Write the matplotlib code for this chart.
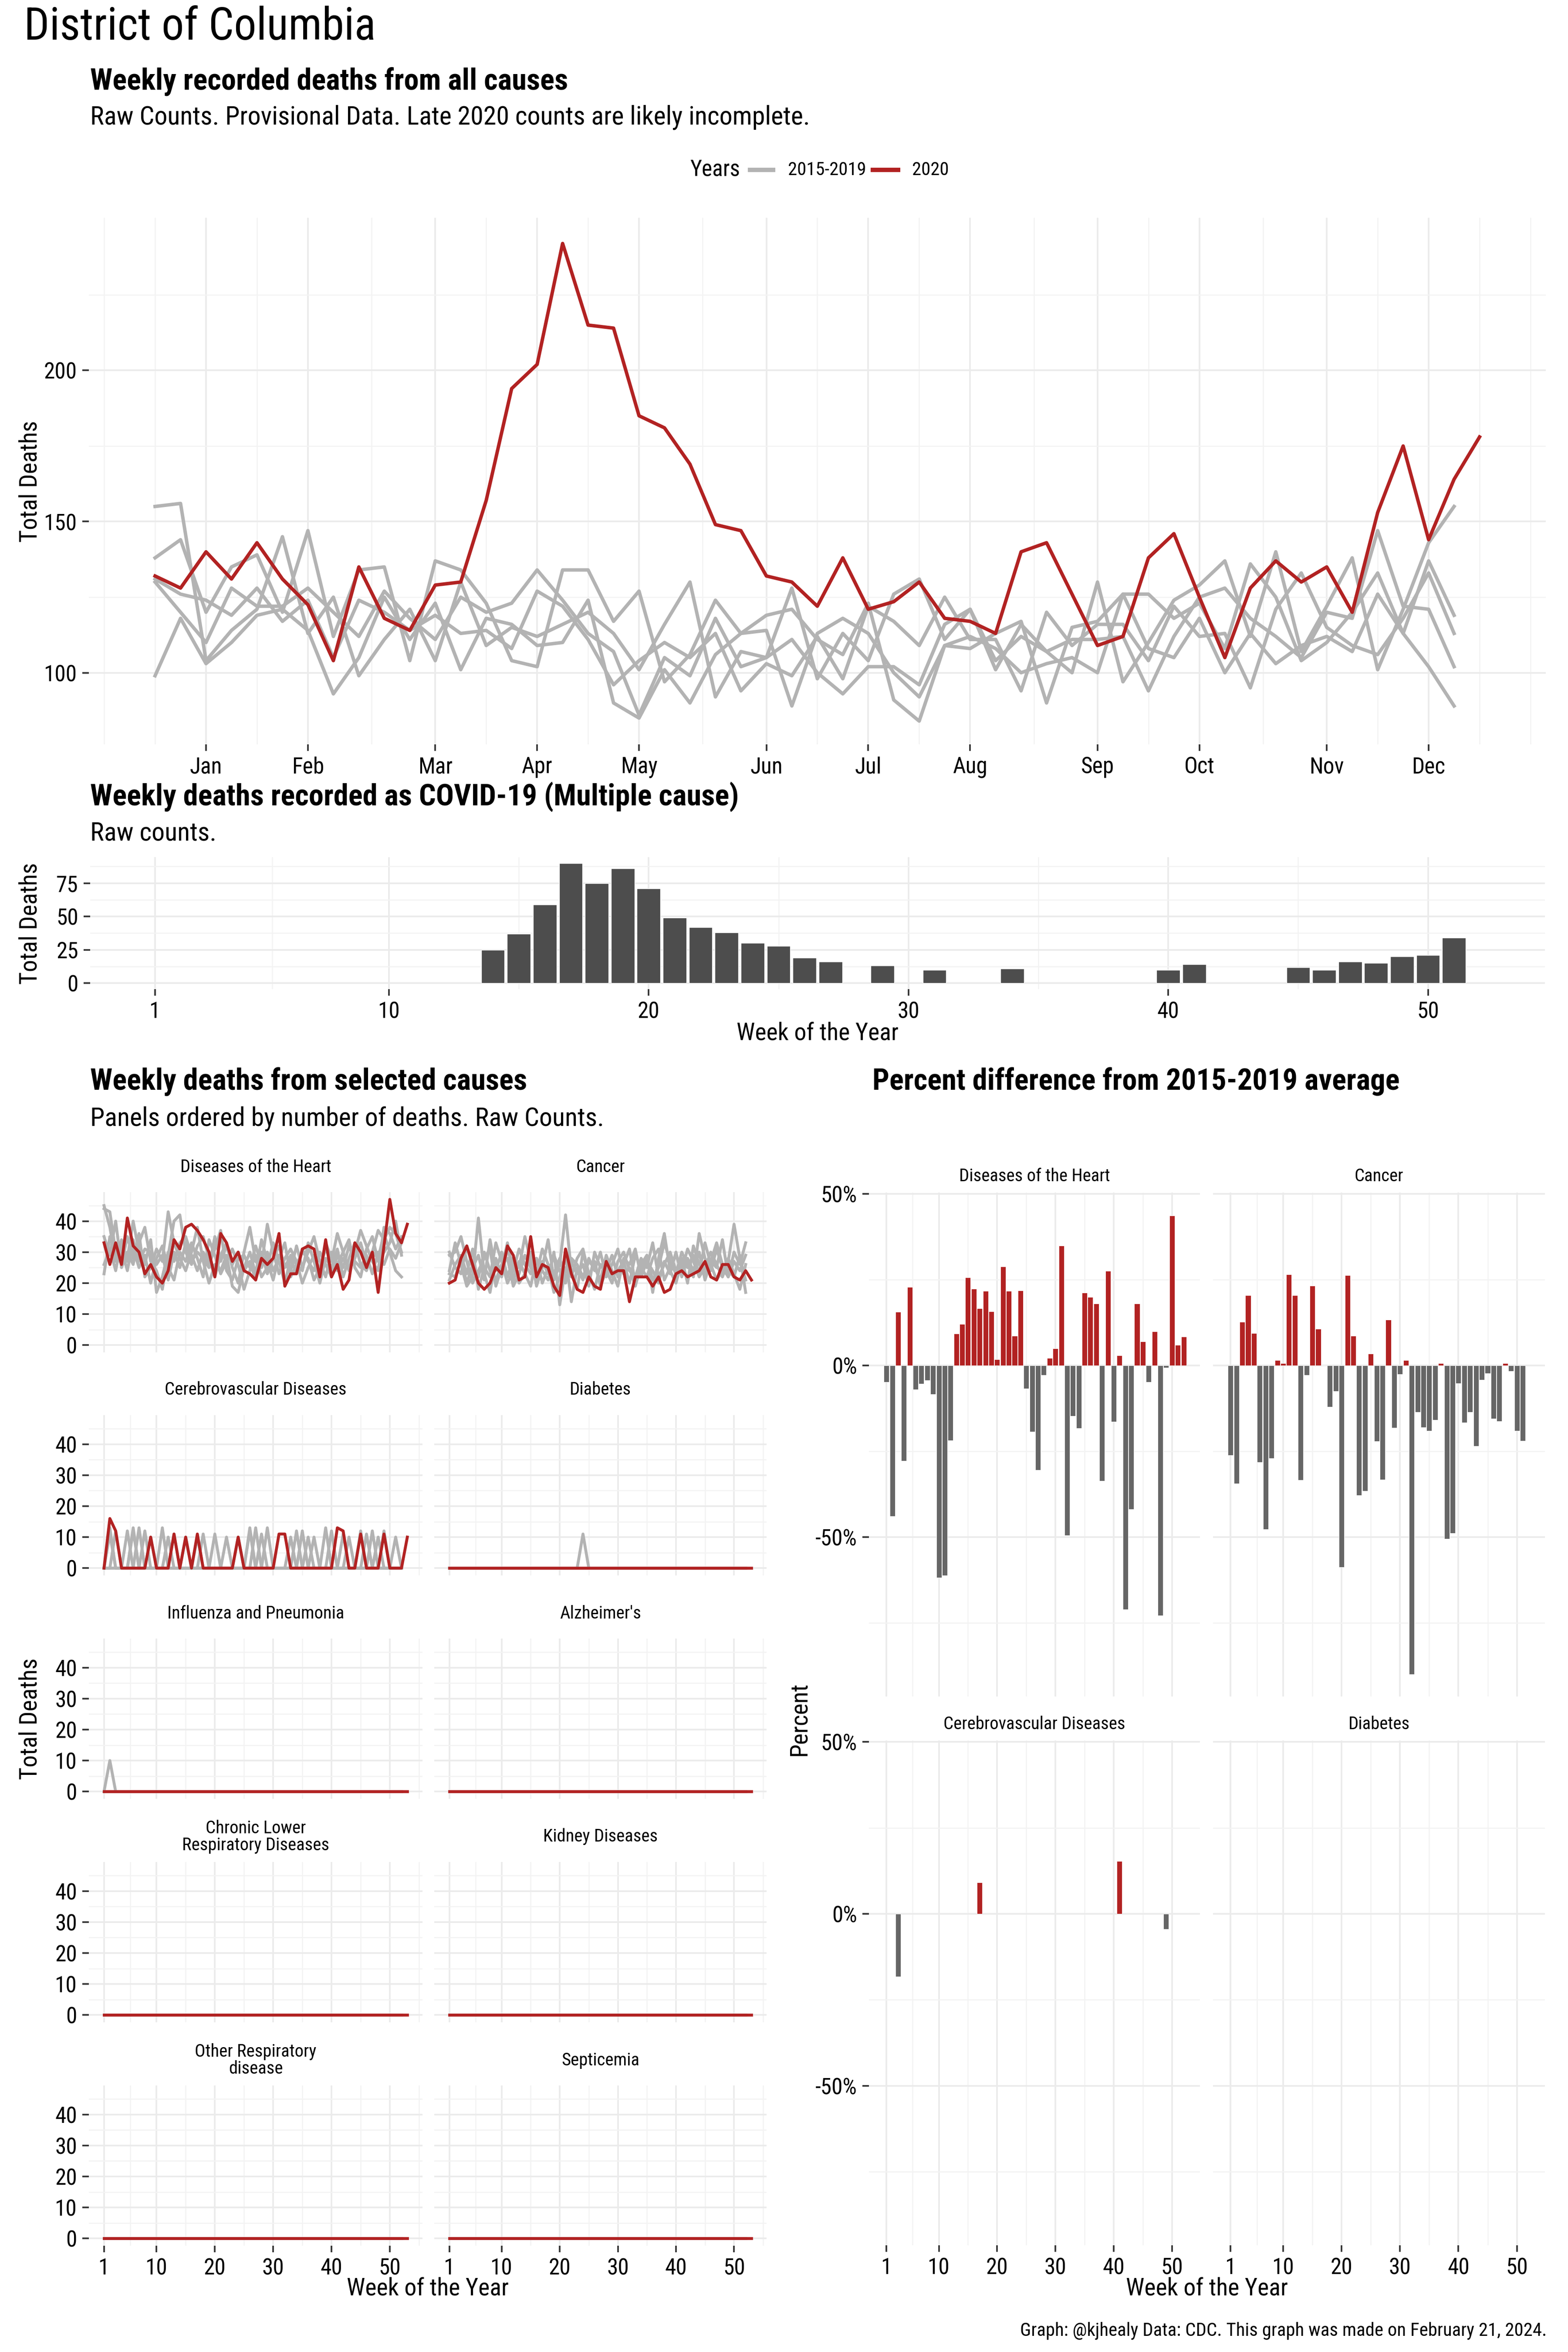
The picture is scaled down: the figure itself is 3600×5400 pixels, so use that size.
import numpy as np
import matplotlib
matplotlib.use('Agg')
import matplotlib.pyplot as plt
from matplotlib.lines import Line2D
from matplotlib import font_manager as fm

# ------------------------------------------------------------------ data
months = ['Jan', 'Feb', 'Mar', 'Apr', 'May', 'Jun', 'Jul', 'Aug', 'Sep', 'Oct', 'Nov', 'Dec']
month_week_pos = [3, 7, 12, 16, 20, 25, 29, 33, 38, 42, 47, 51]

allcause_2020 = [132, 128, 140, 131, 143, 131, 122.5, 104, 135, 118, 114, 129, 130, 157, 194, 202,
                 242, 215, 214, 185, 181, 169, 149, 147, 132, 130, 122, 138, 121, 123.5, 130, 118,
                 117, 113, 140, 143, 126, 109, 112, 138, 146, 125, 105, 128, 137, 130, 135, 120,
                 153, 175, 144, 164, 178]
allcause_prev_a = [155, 156, 104, 114, 121, 145, 113, 125, 99, 111, 121, 104, 130, 109, 115, 112, 116,
                   120, 113, 101, 116, 130, 92, 107, 105, 128, 98, 113, 104, 126, 131, 111, 121, 101,
                   116, 107, 100, 130, 97, 110, 124, 129, 137, 112, 140, 107, 122, 138, 101, 121, 143, 155]
allcause_prev_b = [138, 144, 120, 135, 139, 120, 147, 112, 134, 135, 104, 137, 134, 123, 104, 102, 134,
                   134, 117, 127, 97, 106, 124, 113, 119, 121, 111, 106, 123, 91, 84, 109, 108, 113,
                   117, 90, 115, 117, 126, 126, 118, 123, 108, 136, 125, 104, 110, 120, 133, 113, 137, 119]
allcause_prev_c = [131, 126, 124, 119, 128, 117, 124, 105, 124, 120, 114, 119, 113, 114, 108, 127, 122,
                   111, 96, 104, 110, 105, 113, 94, 103, 99, 112, 98, 122, 117, 109, 125, 111, 111,
                   94, 120, 109, 116, 116, 104, 122, 112, 113, 95, 121, 133, 115, 109, 106, 118, 133, 113]
allcause_prev_d = [130, 120, 110, 128, 122, 122, 128, 120, 112, 127, 118, 111, 125, 120, 123, 134, 124,
                   113, 107, 86, 105, 99, 118, 102, 105, 111, 100, 93, 102, 102, 96, 116, 121, 104,
                   112, 107, 111, 111, 112, 94, 112, 125, 128, 118, 112, 105, 120, 118, 147, 122, 121, 102]
allcause_prev_e = [99, 118, 103, 110, 119, 121, 114, 93, 105, 125, 111, 123, 101, 118, 116, 109, 110,
                   124, 90, 85, 101, 90, 106, 113, 114, 89, 113, 118, 113, 100, 92, 109, 112, 108,
                   100, 103, 105, 100, 126, 108, 105, 118, 100, 113, 103, 109, 112, 107, 126, 113, 102, 89]

covid_weeks = [14, 15, 16, 17, 18, 19, 20, 21, 22, 23, 24, 25, 26, 27, 29, 31, 34, 40, 41, 45, 46, 47,
               48, 49, 50, 51]
covid_deaths = [25, 37, 59, 90, 75, 86, 71, 49, 42, 38, 30, 28, 19, 16, 13, 10, 11, 10, 14, 12, 10, 16,
                15, 20, 21, 34]

heart_2020 = [33, 26, 33, 26, 41, 32, 30, 23, 26, 22, 20, 24, 34, 31, 38, 39, 37, 34, 30, 22, 36, 33,
              27, 30, 24, 23, 21, 28, 26, 28, 36, 19, 23, 23, 31, 32, 31, 22, 34, 22, 26, 18, 21, 33,
              30, 25, 30, 17, 32, 47, 36, 33, 39]
heart_prev_a = [44, 43, 30, 26, 35, 28, 33, 38, 27, 24, 18, 29, 40, 42, 30, 26, 32, 35, 28, 22, 29, 33,
                25, 20, 30, 38, 27, 25, 30, 24, 28, 33, 22, 26, 30, 28, 21, 25, 31, 27, 36, 30, 24, 28,
                33, 26, 30, 37, 34, 38, 36, 30]
heart_prev_b = [45, 38, 27, 32, 28, 40, 30, 26, 34, 17, 22, 30, 27, 33, 35, 29, 24, 30, 26, 31, 37, 24,
                21, 28, 29, 25, 32, 26, 39, 30, 23, 28, 31, 27, 20, 25, 29, 24, 33, 28, 26, 30, 34, 25,
                22, 31, 35, 27, 30, 33, 40, 29]
heart_prev_c = [35, 29, 40, 25, 30, 26, 36, 22, 25, 31, 27, 43, 33, 28, 24, 30, 38, 27, 20, 26, 24, 29,
                19, 17, 25, 30, 23, 34, 27, 21, 29, 26, 24, 32, 25, 30, 35, 27, 22, 30, 24, 28, 25, 30,
                37, 32, 27, 24, 38, 36, 31, 35]
heart_prev_d = [26, 31, 24, 34, 27, 31, 25, 29, 20, 28, 32, 25, 21, 30, 27, 33, 28, 22, 34, 29, 23, 27,
                31, 26, 18, 24, 29, 22, 25, 33, 27, 20, 28, 23, 31, 27, 24, 30, 26, 22, 29, 25, 32, 27,
                25, 29, 23, 30, 26, 31, 28, 33]
heart_prev_e = [23, 35, 29, 31, 24, 34, 27, 31, 30, 26, 29, 21, 30, 25, 33, 27, 30, 28, 25, 35, 27, 32,
                26, 30, 24, 27, 21, 30, 23, 28, 32, 25, 29, 26, 24, 33, 27, 20, 28, 25, 31, 22, 28, 33,
                26, 24, 30, 28, 36, 30, 24, 22]

cancer_2020 = [20, 21, 28, 32, 26, 20, 18, 20, 25, 23, 32, 29, 21, 22, 35, 22, 26, 25, 19, 16, 31, 23,
               18, 17, 22, 19, 18, 27, 23, 24, 24, 14, 22, 22, 22, 19, 22, 17, 18, 23, 24, 22, 23, 24,
               27, 22, 21, 26, 26, 22, 21, 24, 21]
cancer_prev_a = [24, 33, 26, 19, 22, 41, 23, 17, 28, 22, 31, 26, 20, 23, 30, 19, 25, 34, 21, 26, 42, 24,
                 18, 30, 22, 27, 19, 24, 29, 22, 26, 31, 20, 24, 28, 21, 25, 33, 27, 23, 30, 26, 22, 36,
                 28, 24, 31, 25, 22, 30, 26, 33]
cancer_prev_b = [29, 30, 35, 27, 20, 24, 28, 31, 19, 25, 33, 21, 27, 23, 19, 28, 24, 21, 30, 13, 25, 22,
                 28, 31, 23, 18, 26, 24, 20, 27, 30, 24, 22, 28, 25, 33, 22, 26, 30, 24, 28, 20, 32, 26,
                 23, 27, 25, 34, 22, 27, 24, 29]
cancer_prev_c = [21, 26, 29, 23, 31, 18, 25, 22, 33, 27, 20, 24, 31, 26, 23, 28, 20, 25, 17, 22, 29, 14,
                 25, 21, 28, 24, 30, 22, 26, 31, 23, 25, 19, 26, 29, 17, 28, 36, 24, 20, 27, 25, 29, 23,
                 33, 26, 21, 24, 28, 23, 18, 26]
cancer_prev_d = [30, 25, 23, 32, 25, 29, 21, 34, 24, 30, 22, 28, 25, 35, 27, 23, 31, 26, 23, 28, 21, 27,
                 23, 26, 19, 30, 25, 28, 22, 24, 27, 20, 29, 25, 22, 28, 31, 21, 25, 29, 24, 31, 27, 22,
                 25, 30, 26, 22, 27, 39, 28, 21]
cancer_prev_e = [23, 22, 28, 20, 26, 22, 30, 24, 21, 26, 28, 19, 23, 29, 25, 21, 27, 23, 29, 24, 20, 28,
                 26, 22, 27, 25, 21, 29, 24, 19, 28, 26, 31, 22, 27, 24, 20, 27, 23, 30, 22, 28, 24, 30,
                 21, 27, 33, 26, 24, 22, 29, 17]

cerebro_2020 = [0, 16, 12, 0, 0, 0, 0, 0, 10, 0, 0, 0, 11, 0, 10, 0, 11, 0, 0, 0, 0, 0, 0, 10, 0, 0,
                0, 0, 0, 0, 11, 11, 0, 0, 0, 0, 0, 0, 0, 0, 13, 12, 0, 0, 11, 0, 0, 0, 11, 0, 0, 0, 10]
cerebro_prev_a = [0, 13, 0, 0, 0, 13, 0, 0, 0, 0, 13, 0, 0, 0, 0, 0, 10, 0, 0, 0, 0, 0, 0, 0, 0, 13,
                  0, 0, 0, 0, 0, 0, 0, 12, 0, 0, 0, 0, 13, 0, 0, 0, 0, 0, 0, 11, 0, 0, 0, 0, 10, 0]
cerebro_prev_b = [0, 0, 12, 0, 0, 0, 13, 0, 0, 0, 0, 0, 11, 0, 0, 0, 0, 0, 0, 11, 0, 0, 0, 0, 0, 0,
                  13, 0, 0, 0, 0, 0, 0, 0, 12, 0, 0, 0, 0, 12, 0, 0, 0, 0, 0, 0, 12, 0, 0, 0, 0, 0]
cerebro_prev_c = [0, 0, 0, 0, 12, 0, 0, 12, 0, 0, 0, 0, 0, 0, 10, 0, 0, 0, 0, 0, 0, 10, 0, 0, 0, 0,
                  0, 11, 0, 0, 0, 0, 0, 0, 0, 10, 0, 0, 0, 0, 0, 11, 0, 0, 0, 0, 0, 0, 12, 0, 0, 0]
cerebro_prev_d = [0, 0, 0, 0, 0, 12, 0, 0, 10, 0, 0, 0, 0, 0, 0, 0, 0, 11, 0, 0, 0, 0, 0, 10, 0, 0,
                  0, 0, 13, 0, 0, 0, 0, 0, 0, 0, 10, 0, 0, 0, 0, 0, 0, 0, 12, 0, 0, 0, 0, 0, 0, 0]
cerebro_prev_e = [0, 11, 0, 0, 0, 0, 0, 0, 0, 0, 0, 10, 0, 0, 0, 0, 0, 0, 0, 0, 0, 0, 0, 0, 0, 12,
                  0, 0, 0, 0, 0, 0, 10, 0, 0, 0, 0, 0, 0, 0, 0, 0, 10, 0, 0, 0, 0, 10, 0, 0, 0, 0]

diabetes_prev_spike = [0, 0, 0, 0, 0, 0, 0, 0, 0, 0, 0, 0, 0, 0, 0, 0, 0, 0, 0, 0, 0, 0, 0, 11, 0, 0,
                       0, 0, 0, 0, 0, 0, 0, 0, 0, 0, 0, 0, 0, 0, 0, 0, 0, 0, 0, 0, 0, 0, 0, 0, 0, 0]
influenza_prev_spike = [0, 10, 0, 0, 0, 0, 0, 0, 0, 0, 0, 0, 0, 0, 0, 0, 0, 0, 0, 0, 0, 0, 0, 0, 0, 0,
                        0, 0, 0, 0, 0, 0, 0, 0, 0, 0, 0, 0, 0, 0, 0, 0, 0, 0, 0, 0, 0, 0, 0, 0, 0, 0]
zeros_2020 = [0, 0, 0, 0, 0, 0, 0, 0, 0, 0, 0, 0, 0, 0, 0, 0, 0, 0, 0, 0, 0, 0, 0, 0, 0, 0, 0,
              0, 0, 0, 0, 0, 0, 0, 0, 0, 0, 0, 0, 0, 0, 0, 0, 0, 0, 0, 0, 0, 0, 0, 0, 0, 0]
zeros_prev = [0, 0, 0, 0, 0, 0, 0, 0, 0, 0, 0, 0, 0, 0, 0, 0, 0, 0, 0, 0, 0, 0, 0, 0, 0, 0,
              0, 0, 0, 0, 0, 0, 0, 0, 0, 0, 0, 0, 0, 0, 0, 0, 0, 0, 0, 0, 0, 0, 0, 0, 0, 0]

cause_names = ['Diseases of the Heart', 'Cancer', 'Cerebrovascular Diseases', 'Diabetes',
               'Influenza and Pneumonia', "Alzheimer's", 'Chronic Lower\nRespiratory Diseases',
               'Kidney Diseases', 'Other Respiratory\ndisease', 'Septicemia']

heart_pct = [-4.8, -43.9, 15.6, -27.8, 22.9, -7, -5.3, -4.3, -8.4, -61.8, -61.1, -21.8, 9.3, 12.1,
             25.6, 22.4, 16.7, 21.7, 15.8, 1.8, 28.8, 21.7, 8.7, 21.9, -6.7, -19.2, -30.4, -2.8, 2.2,
             5, 34.9, -49.4, -14.7, -18.3, 21.2, 20, 18, -33.6, 27.6, -16.4, 2.9, -71, -41.8, 18.1,
             7, -4.8, 9.9, -72.8, -0.6, 43.7, 6, 8.4]
cancer_pct = [-26.1, -34.4, 12.7, 20.4, 9.4, -28.1, -47.7, -27, 1.5, 0.7, 26.6, 20.5, -33.3, -2.7,
              23.2, 10.7, 0, -12, -7.4, -58.7, 26.3, 8.6, -37.8, -36.5, 3.4, -22.1, -33.2, 13.3,
              -18.1, -2.5, 1.5, -89.9, -13.6, -18, -19, -15.8, 0.7, -50.5, -48.8, -5.2, -16.6,
              -13.6, -23.4, -4.1, -2.3, -15.5, -16.2, 0.7, -1.6, -19, -21.9]
cerebro_pct_weeks = [3, 17, 41, 49]
cerebro_pct = [-18.2, 9.1, 15.3, -4.5]
diabetes_pct_weeks = []
diabetes_pct = []

# ------------------------------------------------------------------ font choice
W, H = 3600, 5400
_fonts = fm.fontManager.ttflist
_names = {f.name for f in _fonts}
FONT = None
STRETCH = 'normal'
for cand in ['Roboto Condensed', 'Liberation Sans Narrow', 'Noto Sans Condensed',
             'Open Sans Condensed', 'DejaVu Sans Condensed', 'Noto Sans SemiCondensed',
             'Open Sans SemiCondensed', 'Arial Narrow']:
    if cand in _names:
        FONT = cand
        break
if FONT is None:
    def _is_cond(f):
        s = f.stretch
        if isinstance(s, str):
            return 'condensed' in s
        return s < 500
    for fam in ['Noto Sans', 'Roboto', 'Open Sans', 'DejaVu Sans']:
        if any(f.name == fam and _is_cond(f) for f in _fonts):
            FONT = fam
            STRETCH = 'condensed'
            break
if FONT is None:
    FONT = 'Roboto' if 'Roboto' in _names else 'DejaVu Sans'

plt.rcParams['font.family'] = [FONT, 'DejaVu Sans']
plt.rcParams['font.stretch'] = STRETCH

fig = plt.figure(figsize=(12, 18), dpi=300)
fig.patch.set_facecolor('white')

# scale text sizes so that string widths match the reference layout
_r = fig.canvas.get_renderer()
_probe = [('Weekly recorded deaths from all causes', 16, 'bold', 1148),
          ('Raw Counts. Provisional Data. Late 2020 counts are likely incomplete.', 14, 'normal', 1657),
          ('Week of the Year', 13, 'normal', 354)]
_ratios = []
for s, fs, wt, target in _probe:
    t = fig.text(0, 0, s, fontsize=fs, weight=wt, stretch=STRETCH)
    w = t.get_window_extent(renderer=_r).width
    t.remove()
    _ratios.append(target / w)
S = float(np.clip(np.mean(_ratios), 0.7, 1.15))

RED = '#B22222'
GRAY_LINE = '#B3B3B3'
GRAY_BAR = '#666666'
COVID_BAR = '#4D4D4D'
GRID_MAJOR = '#EBEBEB'
GRID_MINOR = '#F3F3F3'
TICK_COL = '#333333'


def px_axes(x0, y0, x1, y1):
    return fig.add_axes([x0 / W, 1 - y1 / H, (x1 - x0) / W, (y1 - y0) / H])


def ftext(x, y, s, fontsize=12, **kw):
    return fig.text(x / W, 1 - y / H, s, fontsize=fontsize * S, stretch=STRETCH, **kw)


def clean(ax):
    for s in ax.spines.values():
        s.set_visible(False)
    ax.set_axisbelow(True)
    ax.grid(which='major', color=GRID_MAJOR, lw=0.9)
    ax.grid(which='minor', color=GRID_MINOR, lw=0.6)
    ax.tick_params(which='major', length=3.5, width=0.9, color=TICK_COL, labelcolor='black',
                   labelsize=12 * S, pad=3)
    ax.tick_params(which='minor', length=0)


# ------------------------------------------------------------------ titles
ftext(55, 91, 'District of Columbia', fontsize=24, va='baseline')
ftext(207, 205, 'Weekly recorded deaths from all causes', fontsize=16, weight='bold', va='baseline')
ftext(207, 286, 'Raw Counts. Provisional Data. Late 2020 counts are likely incomplete.',
      fontsize=14, va='baseline')

# legend
ftext(1584, 390, 'Years', fontsize=12, va='center')
fig.add_artist(Line2D([1722 / W, 1775 / W], [1 - 390 / H] * 2, transform=fig.transFigure,
                      color=GRAY_LINE, lw=2.4))
ftext(1809, 390, '2015-2019', fontsize=10, va='center')
fig.add_artist(Line2D([2004 / W, 2062 / W], [1 - 390 / H] * 2, transform=fig.transFigure,
                      color=RED, lw=2.4))
ftext(2094, 390, '2020', fontsize=10, va='center')

# ------------------------------------------------------------------ top panel
ax = px_axes(204, 500, 3549, 1709)
clean(ax)
wk52 = np.arange(1, 53)
wk53 = np.arange(1, 54)
for s in [allcause_prev_a, allcause_prev_b, allcause_prev_c, allcause_prev_d, allcause_prev_e]:
    ax.plot(wk52, s, color=GRAY_LINE, lw=1.9, solid_joinstyle='round')
ax.plot(wk53, allcause_2020, color=RED, lw=1.9, solid_joinstyle='round')
ax.set_xlim(-1.6, 55.6)
ax.set_ylim(76.3, 250.5)
ax.set_xticks(month_week_pos)
ax.set_xticklabels(months)
ax.set_xticks([-1, 1, 5, 9.5, 14, 18, 22.5, 27, 31, 35.5, 40, 44.5, 49, 53, 55], minor=True)
ax.set_yticks([100, 150, 200])
ax.set_yticks([125, 175, 225], minor=True)
ftext(69, 1105, 'Total Deaths', fontsize=13, rotation=90, va='center', ha='center')

# ------------------------------------------------------------------ covid panel
ftext(207, 1849, 'Weekly deaths recorded as COVID-19 (Multiple cause)', fontsize=16, weight='bold',
      va='baseline')
ftext(207, 1930, 'Raw counts.', fontsize=14, va='baseline')
ax = px_axes(207, 1968, 3547, 2271)
clean(ax)
ax.bar(covid_weeks, covid_deaths, width=0.9, color=COVID_BAR, edgecolor='white', lw=0.3)
ax.set_xlim(-1.5, 54.5)
ax.set_ylim(-4.5, 94.5)
ax.set_xticks([1, 10, 20, 30, 40, 50])
ax.set_xticks([5.5, 15, 25, 35, 45], minor=True)
ax.set_yticks([0, 25, 50, 75])
ax.set_yticks([12.5, 37.5, 62.5, 87.5], minor=True)
ftext(69, 2120, 'Total Deaths', fontsize=13, rotation=90, va='center', ha='center')
ftext(1877, 2372, 'Week of the Year', fontsize=13, va='center', ha='center')

# ------------------------------------------------------------------ selected causes
ftext(207, 2502, 'Weekly deaths from selected causes', fontsize=16, weight='bold', va='baseline')
ftext(207, 2585, 'Panels ordered by number of deaths. Raw Counts.', fontsize=14, va='baseline')

cause_2020 = [heart_2020, cancer_2020, cerebro_2020, zeros_2020, zeros_2020, zeros_2020,
              zeros_2020, zeros_2020, zeros_2020, zeros_2020]
cause_prev = [
    [heart_prev_a, heart_prev_b, heart_prev_c, heart_prev_d, heart_prev_e],
    [cancer_prev_a, cancer_prev_b, cancer_prev_c, cancer_prev_d, cancer_prev_e],
    [cerebro_prev_a, cerebro_prev_b, cerebro_prev_c, cerebro_prev_d, cerebro_prev_e],
    [diabetes_prev_spike, zeros_prev, zeros_prev, zeros_prev, zeros_prev],
    [influenza_prev_spike, zeros_prev, zeros_prev, zeros_prev, zeros_prev],
    [zeros_prev] * 5, [zeros_prev] * 5, [zeros_prev] * 5, [zeros_prev] * 5, [zeros_prev] * 5,
]

col_x = [(204, 970), (997, 1760)]
row_top = [2737, 3249, 3762, 4275, 4788]
row_h = 368
for k in range(10):
    r, c = divmod(k, 2)
    x0, x1 = col_x[c]
    y0 = row_top[r]
    ax = px_axes(x0, y0, x1, y0 + row_h)
    clean(ax)
    for s in cause_prev[k]:
        ax.plot(wk52, s, color=GRAY_LINE, lw=1.6, solid_joinstyle='round')
    ax.plot(wk53, cause_2020[k], color=RED, lw=1.6, solid_joinstyle='round')
    ax.set_xlim(-1.6, 55.6)
    ax.set_ylim(-2.35, 49.35)
    ax.set_xticks([1, 10, 20, 30, 40, 50])
    ax.set_xticks([5.5, 15, 25, 35, 45, 55], minor=True)
    ax.set_yticks([0, 10, 20, 30, 40])
    ax.set_yticks([5, 15, 25, 35, 45], minor=True)
    if c == 1:
        ax.tick_params(axis='y', which='major', length=0, labelleft=False)
    if r < 4:
        ax.tick_params(axis='x', which='major', length=0, labelbottom=False)
    ftext((x0 + x1) / 2, y0 - 58, cause_names[k], fontsize=9.5, ha='center', va='center',
          linespacing=1.0)

ftext(69, 3946, 'Total Deaths', fontsize=13, rotation=90, va='center', ha='center')
ftext(982, 5254, 'Week of the Year', fontsize=13, va='center', ha='center')

# ------------------------------------------------------------------ percent difference
ftext(2003, 2502, 'Percent difference from 2015-2019 average', fontsize=16, weight='bold',
      va='baseline')
pct_names = ['Diseases of the Heart', 'Cancer', 'Cerebrovascular Diseases', 'Diabetes']
pct_weeks = [list(range(1, len(heart_pct) + 1)), list(range(1, len(cancer_pct) + 1)),
             cerebro_pct_weeks, diabetes_pct_weeks]
pct_vals = [heart_pct, cancer_pct, cerebro_pct, diabetes_pct]
pcol_x = [(1995, 2755), (2785, 3547)]
prow = [(2738, 3895), (3996, 5155)]
for k in range(4):
    r, c = divmod(k, 2)
    x0, x1 = pcol_x[c]
    y0, y1 = prow[r]
    ax = px_axes(x0, y0, x1, y1)
    clean(ax)
    vals = pct_vals[k]
    if len(vals):
        cols = [RED if v > 0 else GRAY_BAR for v in vals]
        ax.bar(pct_weeks[k], vals, width=0.9, color=cols, edgecolor='white', lw=0.2)
    ax.set_xlim(-2.0, 54.8)
    ax.set_ylim(-96.4, 50.4)
    ax.set_xticks([1, 10, 20, 30, 40, 50])
    ax.set_xticks([5.5, 15, 25, 35, 45], minor=True)
    ax.set_yticks([-50, 0, 50])
    ax.set_yticklabels(['-50%', '0%', '50%'])
    ax.set_yticks([-75, -25, 25], minor=True)
    if c == 1:
        ax.tick_params(axis='y', which='major', length=0, labelleft=False)
    if r == 0:
        ax.tick_params(axis='x', which='major', length=0, labelbottom=False)
    ftext((x0 + x1) / 2, y0 - 38, pct_names[k], fontsize=9.5, ha='center', va='center')

ftext(1835, 3946, 'Percent', fontsize=13, rotation=90, va='center', ha='center')
ftext(2771, 5254, 'Week of the Year', fontsize=13, va='center', ha='center')

ftext(3551, 5352, 'Graph: @kjhealy Data: CDC. This graph was made on February 21, 2024.',
      fontsize=10, ha='right', va='center')

fig.savefig('out.png', dpi=300, facecolor='white')
